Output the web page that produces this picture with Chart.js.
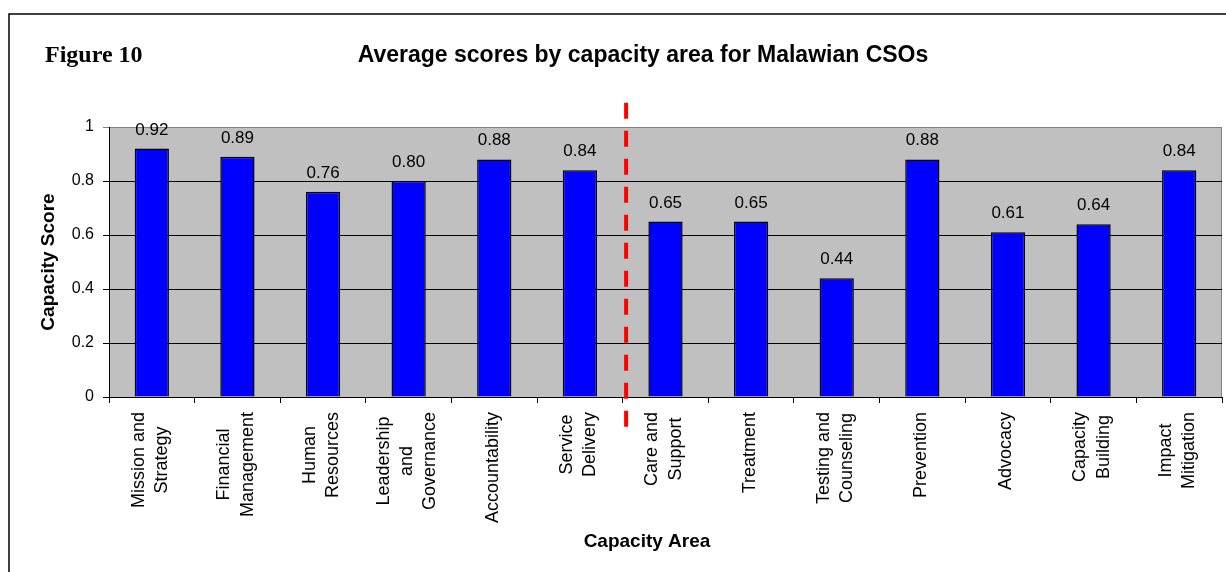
<!DOCTYPE html>
<html>
<head>
<meta charset="utf-8">
<script src="https://cdn.jsdelivr.net/npm/chart.js@4.4.1/dist/chart.umd.min.js"></script>
<style>
  html, body { margin: 0; padding: 0; background: #ffffff; }
  canvas { display: block; }
</style>
</head>
<body>
<canvas id="chart" width="1226" height="572"></canvas>
<script>
// Capacity areas (each entry is the list of lines of its axis label)
const CATEGORIES = [
  ['Mission and', 'Strategy'],
  ['Financial', 'Management'],
  ['Human', 'Resources'],
  ['Leadership', 'and', 'Governance'],
  ['Accountability'],
  ['Service', 'Delivery'],
  ['Care and', 'Support'],
  ['Treatment'],
  ['Testing and', 'Counseling'],
  ['Prevention'],
  ['Advocacy'],
  ['Capacity', 'Building'],
  ['Impact', 'Mitigation']
];

// Average capacity score for each area
const SCORES = [0.92, 0.89, 0.76, 0.80, 0.88, 0.84, 0.65, 0.65, 0.44, 0.88, 0.61, 0.64, 0.84];

// Value-axis ticks
const Y_TICKS = [0, 0.2, 0.4, 0.6, 0.8, 1];

// Divider between organisational and programme areas (category units / value units)
const DIVIDER_AT = 5.54;
const DIVIDER_TOP = 1.09;
const DIVIDER_BOTTOM = -0.11;

const FIGURE_LABEL = 'Figure 10';
const TITLE = 'Average scores by capacity area for Malawian CSOs';
const X_TITLE = 'Capacity Area';
const Y_TITLE = 'Capacity Score';

const SANS = '"Liberation Sans", Arial, sans-serif';
const SERIF = '"Liberation Serif", "Times New Roman", serif';

const decorations = {
  id: 'decorations',
  beforeDraw(chart) {
    const { ctx, chartArea: a } = chart;
    ctx.save();
    ctx.fillStyle = '#ffffff';
    ctx.fillRect(0, 0, chart.width, chart.height);
    ctx.fillStyle = '#C0C0C0';
    ctx.fillRect(a.left, a.top, a.right - a.left, a.bottom - a.top);
    ctx.strokeStyle = '#808080';
    ctx.lineWidth = 1;
    ctx.beginPath();
    ctx.moveTo(Math.round(a.right) - 0.5, a.top);
    ctx.lineTo(Math.round(a.right) - 0.5, a.bottom);
    ctx.stroke();
    ctx.restore();
  },
  afterDatasetsDraw(chart) {
    const { ctx } = chart;
    const meta = chart.getDatasetMeta(0);
    ctx.save();
    ctx.font = '17px ' + SANS;
    ctx.fillStyle = '#000';
    ctx.textAlign = 'center';
    ctx.textBaseline = 'alphabetic';
    meta.data.forEach((bar, i) => {
      ctx.fillText(SCORES[i].toFixed(2), bar.x, bar.y - 14);
    });
    ctx.restore();
  },
  afterDraw(chart) {
    const { ctx } = chart;
    const xs = chart.scales.x;
    const ys = chart.scales.y;
    ctx.save();

    // outer frame
    ctx.strokeStyle = '#000';
    ctx.lineWidth = 1.5;
    ctx.beginPath();
    ctx.moveTo(9, chart.height);
    ctx.lineTo(9, 14);
    ctx.lineTo(chart.width, 14);
    ctx.stroke();

    // headings
    ctx.fillStyle = '#000';
    ctx.textBaseline = 'alphabetic';
    ctx.font = 'bold 24px ' + SERIF;
    ctx.textAlign = 'left';
    ctx.fillText(FIGURE_LABEL, 45, 62);
    ctx.font = 'bold 23px ' + SANS;
    ctx.textAlign = 'center';
    ctx.fillText(TITLE, 643, 62);

    // category labels, rotated, lines centred on each other
    ctx.font = '18px ' + SANS;
    ctx.textBaseline = 'middle';
    const lineGap = 23.3;
    CATEGORIES.forEach((lines, i) => {
      const cx = xs.getPixelForValue(i) - 1.5;
      const maxW = Math.max(...lines.map(l => ctx.measureText(l).width));
      ctx.save();
      ctx.translate(cx, xs.top + 15 + maxW / 2);
      ctx.rotate(-Math.PI / 2);
      lines.forEach((l, k) => {
        ctx.fillText(l, 0, (k - (lines.length - 1) / 2) * lineGap);
      });
      ctx.restore();
    });

    // axis titles
    ctx.font = 'bold 19px ' + SANS;
    ctx.textAlign = 'center';
    ctx.textBaseline = 'alphabetic';
    ctx.fillText(X_TITLE, 647, 547);
    ctx.save();
    ctx.translate(54, (ys.top + ys.bottom) / 2);
    ctx.rotate(-Math.PI / 2);
    ctx.fillText(Y_TITLE, 0, 0);
    ctx.restore();

    // dashed divider
    const dx = xs.getPixelForValue(DIVIDER_AT);
    ctx.strokeStyle = '#FF0000';
    ctx.lineWidth = 4;
    ctx.setLineDash([16, 12]);
    ctx.beginPath();
    ctx.moveTo(dx, ys.getPixelForValue(DIVIDER_TOP));
    ctx.lineTo(dx, ys.getPixelForValue(DIVIDER_BOTTOM));
    ctx.stroke();
    ctx.restore();
  }
};

new Chart(document.getElementById('chart'), {
  type: 'bar',
  data: {
    labels: CATEGORIES.map(c => c.join(' ')),
    datasets: [{
      data: SCORES,
      backgroundColor: '#0000FF',
      borderColor: '#000000',
      borderWidth: 1.5,
      categoryPercentage: 0.4,
      barPercentage: 1
    }]
  },
  options: {
    responsive: false,
    animation: false,
    devicePixelRatio: 1,
    layout: { padding: { top: 127, right: 4, left: 0, bottom: 0 } },
    plugins: {
      legend: { display: false },
      tooltip: { enabled: false },
      title: { display: false }
    },
    scales: {
      x: {
        grid: {
          display: true,
          drawOnChartArea: false,
          drawTicks: true,
          tickLength: 6,
          color: '#000',
          offset: true
        },
        border: { display: true, color: '#000', width: 1 },
        ticks: { display: false },
        afterFit(scale) { scale.height = 175; }
      },
      y: {
        min: 0,
        max: 1,
        afterBuildTicks(scale) { scale.ticks = Y_TICKS.map(v => ({ value: v })); },
        ticks: {
          font: { family: SANS, size: 16 },
          color: '#000',
          padding: 9,
          callback: v => String(v)
        },
        grid: {
          color: ctx => (ctx.tick && ctx.tick.value === 1 ? '#808080' : '#000'),
          tickLength: 6,
          lineWidth: 1
        },
        border: { display: true, color: '#000', width: 1 },
        afterFit(scale) { scale.width = 109; }
      }
    }
  },
  plugins: [decorations]
});
</script>
</body>
</html>
